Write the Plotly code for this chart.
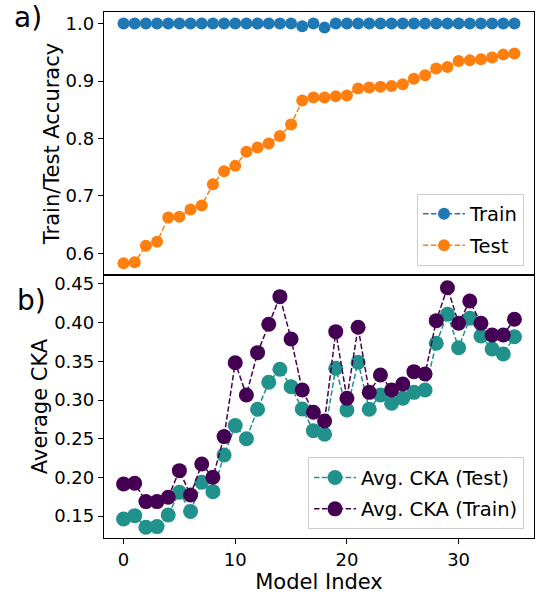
import plotly.graph_objects as go

model_index = list(range(36))
train_acc = [1.0] * 16 + [0.9953, 1.0, 0.993] + [1.0] * 17
test_acc = [0.5826, 0.5843, 0.6133, 0.620, 0.6626, 0.6637, 0.6765, 0.6835, 0.7205,
            0.7431, 0.7523, 0.7767, 0.7843, 0.7913, 0.8045, 0.8243, 0.8660, 0.8713,
            0.8712, 0.8736, 0.875, 0.887, 0.8887, 0.890, 0.8915, 0.8945, 0.904,
            0.910, 0.9217, 0.9245, 0.935, 0.936, 0.938, 0.941, 0.946, 0.9478]
cka_test = [0.1464, 0.1507, 0.1357, 0.1365, 0.1515, 0.181, 0.156, 0.1938, 0.1817,
            0.229, 0.267, 0.2500, 0.2881, 0.323, 0.3398, 0.3173, 0.2885, 0.2605,
            0.2558, 0.3411, 0.2872, 0.3488, 0.2881, 0.3066, 0.2959, 0.3023, 0.310,
            0.3131, 0.3734, 0.4108, 0.3677, 0.4057, 0.3828, 0.366, 0.3596, 0.3819]
cka_train = [0.1916, 0.1925, 0.1688, 0.1688, 0.1744, 0.2088, 0.1774, 0.2174, 0.2002,
             0.2528, 0.3483, 0.3066, 0.3613, 0.398, 0.4336, 0.379, 0.3131, 0.2842,
             0.273, 0.3884, 0.3023, 0.394, 0.310, 0.3324, 0.3131, 0.3208, 0.3367,
             0.3337, 0.4026, 0.4452, 0.3992, 0.428, 0.3992, 0.3841, 0.3841, 0.4044]

top_ticks = [0.6, 0.7, 0.8, 0.9, 1.0]
bottom_ticks = [0.15, 0.20, 0.25, 0.30, 0.35, 0.40, 0.45]
x_ticks = [0, 10, 20, 30]

FONT = "DejaVu Sans"
DASH = "5.5px,2.4px"

fig = go.Figure()

fig.add_trace(go.Scatter(x=model_index, y=train_acc, name="Train", mode="lines+markers",
                         line=dict(color="#1f77b4", width=1.5, dash=DASH),
                         marker=dict(size=12, color="#1f77b4", line=dict(width=0)),
                         xaxis="x", yaxis="y", legend="legend", legendgroup="g1"))
fig.add_trace(go.Scatter(x=model_index, y=test_acc, name="Test", mode="lines+markers",
                         line=dict(color="#ff7f0e", width=1.5, dash=DASH),
                         marker=dict(size=12, color="#ff7f0e", line=dict(width=0)),
                         xaxis="x", yaxis="y", legend="legend", legendgroup="g2"))
fig.add_trace(go.Scatter(x=model_index, y=cka_test, name="Avg. CKA (Test)", mode="lines+markers",
                         line=dict(color="#21918c", width=1.5, dash=DASH),
                         marker=dict(size=15, color="#21918c", line=dict(width=0)),
                         xaxis="x2", yaxis="y2", legend="legend2", legendgroup="g3"))
fig.add_trace(go.Scatter(x=model_index, y=cka_train, name="Avg. CKA (Train)", mode="lines+markers",
                         line=dict(color="#440154", width=1.5, dash=DASH),
                         marker=dict(size=15, color="#440154", line=dict(width=0)),
                         xaxis="x2", yaxis="y2", legend="legend2", legendgroup="g4"))

axis_common = dict(showline=True, mirror=True, linecolor="black", linewidth=1.3,
                   showgrid=False, zeroline=False, ticks="outside", ticklen=5,
                   tickwidth=1.2, tickcolor="black",
                   tickfont=dict(family=FONT, size=18, color="black"))

legend_common = dict(xanchor="right", yanchor="bottom", traceorder="grouped",
                     tracegroupgap=3, itemwidth=42,
                     bgcolor="rgba(255,255,255,0.8)", bordercolor="#cccccc", borderwidth=1,
                     font=dict(family=FONT, size=19.5, color="black"))

fig.update_layout(
    width=542, height=597,
    margin=dict(l=104, r=8, t=12, b=59),
    paper_bgcolor="white", plot_bgcolor="white",
    font=dict(family=FONT, color="black"),
    xaxis=dict(domain=[0, 1], range=[-1.75, 36.75], anchor="y",
               showticklabels=False, tickvals=x_ticks, ticks="",
               **{k: v for k, v in axis_common.items() if k not in ("ticks",)}),
    yaxis=dict(domain=[0.5, 1], range=[0.5623, 1.0202], anchor="x",
               tickvals=top_ticks, tickformat=".1f",
               title=dict(text="Train/Test Accuracy", font=dict(family=FONT, size=21), standoff=0),
               **axis_common),
    xaxis2=dict(domain=[0, 1], range=[-1.75, 36.75], anchor="y2", tickvals=x_ticks,
                title=dict(text="Model Index", font=dict(family=FONT, size=21), standoff=2),
                **axis_common),
    yaxis2=dict(domain=[0, 0.5], range=[0.1218, 0.4616], anchor="x2",
                tickvals=bottom_ticks, tickformat=".2f",
                title=dict(text="Average CKA", font=dict(family=FONT, size=21), standoff=0),
                **axis_common),
    legend=dict(x=0.9768, y=0.5177, **legend_common),
    legend2=dict(x=0.9768, y=0.0165, **legend_common),
    annotations=[
        dict(text="a)", x=(28 - 104) / 430.3, y=(538 - 18) / 526, xref="paper", yref="paper",
             xanchor="center", yanchor="middle", showarrow=False,
             font=dict(family=FONT, size=28, color="black")),
        dict(text="b)", x=(31 - 104) / 430.3, y=(538 - 300) / 526, xref="paper", yref="paper",
             xanchor="center", yanchor="middle", showarrow=False,
             font=dict(family=FONT, size=28, color="black")),
    ],
)

fig.write_html("out.html")
